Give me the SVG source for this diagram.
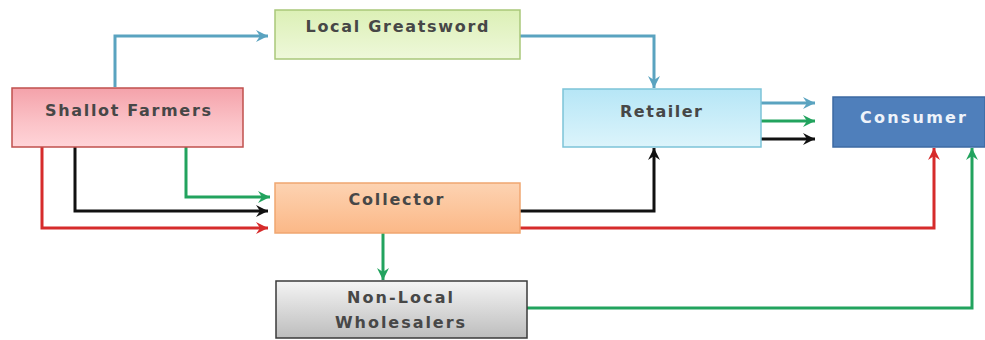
<svg xmlns="http://www.w3.org/2000/svg" width="985" height="340" viewBox="0 0 985 340">
<defs>
<linearGradient id="gPink" x1="0" y1="0" x2="0" y2="1"><stop offset="0" stop-color="#f4a2aa"/><stop offset="0.6" stop-color="#fbc3c8"/><stop offset="1" stop-color="#ffd4d8"/></linearGradient>
<linearGradient id="gGreen" x1="0" y1="0" x2="0" y2="1"><stop offset="0" stop-color="#dcf0b6"/><stop offset="1" stop-color="#eef8da"/></linearGradient>
<linearGradient id="gOrange" x1="0" y1="0" x2="0" y2="1"><stop offset="0" stop-color="#fdd3b2"/><stop offset="1" stop-color="#fbb887"/></linearGradient>
<linearGradient id="gBlue" x1="0" y1="0" x2="0" y2="1"><stop offset="0" stop-color="#b6e6f6"/><stop offset="1" stop-color="#dcf4fb"/></linearGradient>
<linearGradient id="gGray" x1="0" y1="0" x2="0" y2="1"><stop offset="0" stop-color="#f4f4f4"/><stop offset="1" stop-color="#bdbdbd"/></linearGradient>
<marker id="mBlue" markerUnits="userSpaceOnUse" markerWidth="14" markerHeight="14" refX="12" refY="6" orient="auto"><path d="M0,0 L12,6 L0,12 L4,6 z" fill="#5aa3c0"/></marker>
<marker id="mGreen" markerUnits="userSpaceOnUse" markerWidth="14" markerHeight="14" refX="12" refY="6" orient="auto"><path d="M0,0 L12,6 L0,12 L4,6 z" fill="#22a35e"/></marker>
<marker id="mRed" markerUnits="userSpaceOnUse" markerWidth="14" markerHeight="14" refX="12" refY="6" orient="auto"><path d="M0,0 L12,6 L0,12 L4,6 z" fill="#d62b2b"/></marker>
<marker id="mBlack" markerUnits="userSpaceOnUse" markerWidth="14" markerHeight="14" refX="12" refY="6" orient="auto"><path d="M0,0 L12,6 L0,12 L4,6 z" fill="#111111"/></marker>
</defs>
<style>
.box{stroke-width:1.5}
.lbl{font-family:"DejaVu Sans",Verdana,sans-serif;font-size:16px;font-weight:bold;fill:#474747;text-anchor:middle}
.c{fill:none;stroke-width:3;stroke-linejoin:miter}
.blue{stroke:#5aa3c0}
.green{stroke:#22a35e}
.red{stroke:#d62b2b}
.black{stroke:#111111}
</style>
<rect width="985" height="340" fill="#ffffff"/>
<g id="connectors">
<path class="c blue" d="M115,87 V36 H268" marker-end="url(#mBlue)"/>
<path class="c blue" d="M520,36 H654 V88" marker-end="url(#mBlue)"/>
<path class="c red" d="M42,147 V228 H268" marker-end="url(#mRed)"/>
<path class="c black" d="M75,147 V211 H268" marker-end="url(#mBlack)"/>
<path class="c green" d="M186,147 V197 H270" marker-end="url(#mGreen)"/>
<path class="c black" d="M520,211 H654 V148" marker-end="url(#mBlack)"/>
<path class="c red" d="M520,228 H934 V148" marker-end="url(#mRed)"/>
<path class="c green" d="M383,233 V280" marker-end="url(#mGreen)"/>
<path class="c green" d="M527,308 H972 V148" marker-end="url(#mGreen)"/>
<path class="c blue" d="M761,103 H815" marker-end="url(#mBlue)"/>
<path class="c green" d="M761,121 H815" marker-end="url(#mGreen)"/>
<path class="c black" d="M761,139 H815" marker-end="url(#mBlack)"/>
</g>
<g id="shallot-farmers">
<rect class="box" x="12" y="88" width="231" height="59" fill="url(#gPink)" stroke="#c0504d"/>
<text class="lbl" x="128" y="116" textLength="166" lengthAdjust="spacing">Shallot Farmers</text>
</g>
<g id="local-greatsword">
<rect class="box" x="275" y="10" width="245" height="49" fill="url(#gGreen)" stroke="#a9c77a"/>
<text class="lbl" x="397" y="32" textLength="183" lengthAdjust="spacing">Local Greatsword</text>
</g>
<g id="collector">
<rect class="box" x="275" y="183" width="245" height="50" fill="url(#gOrange)" stroke="#f0a670"/>
<text class="lbl" x="396" y="205" textLength="95" lengthAdjust="spacing">Collector</text>
</g>
<g id="non-local-wholesalers">
<rect class="box" x="276" y="281" width="251" height="57" fill="url(#gGray)" stroke="#3a3a3a"/>
<text class="lbl" x="400" y="303" textLength="106" lengthAdjust="spacing">Non-Local</text>
<text class="lbl" x="400" y="328" textLength="130" lengthAdjust="spacing">Wholesalers</text>
</g>
<g id="retailer">
<rect class="box" x="563" y="89" width="198" height="58" fill="url(#gBlue)" stroke="#7cc3d8"/>
<text class="lbl" x="661" y="117" textLength="82" lengthAdjust="spacing">Retailer</text>
</g>
<g id="consumer">
<rect class="box" x="833" y="97" width="152" height="50" fill="#4f7fbb" stroke="#3d6aa3"/>
<text class="lbl" x="913" y="123" textLength="106" lengthAdjust="spacing" style="fill:#eef3fa">Consumer</text>
</g>
</svg>
